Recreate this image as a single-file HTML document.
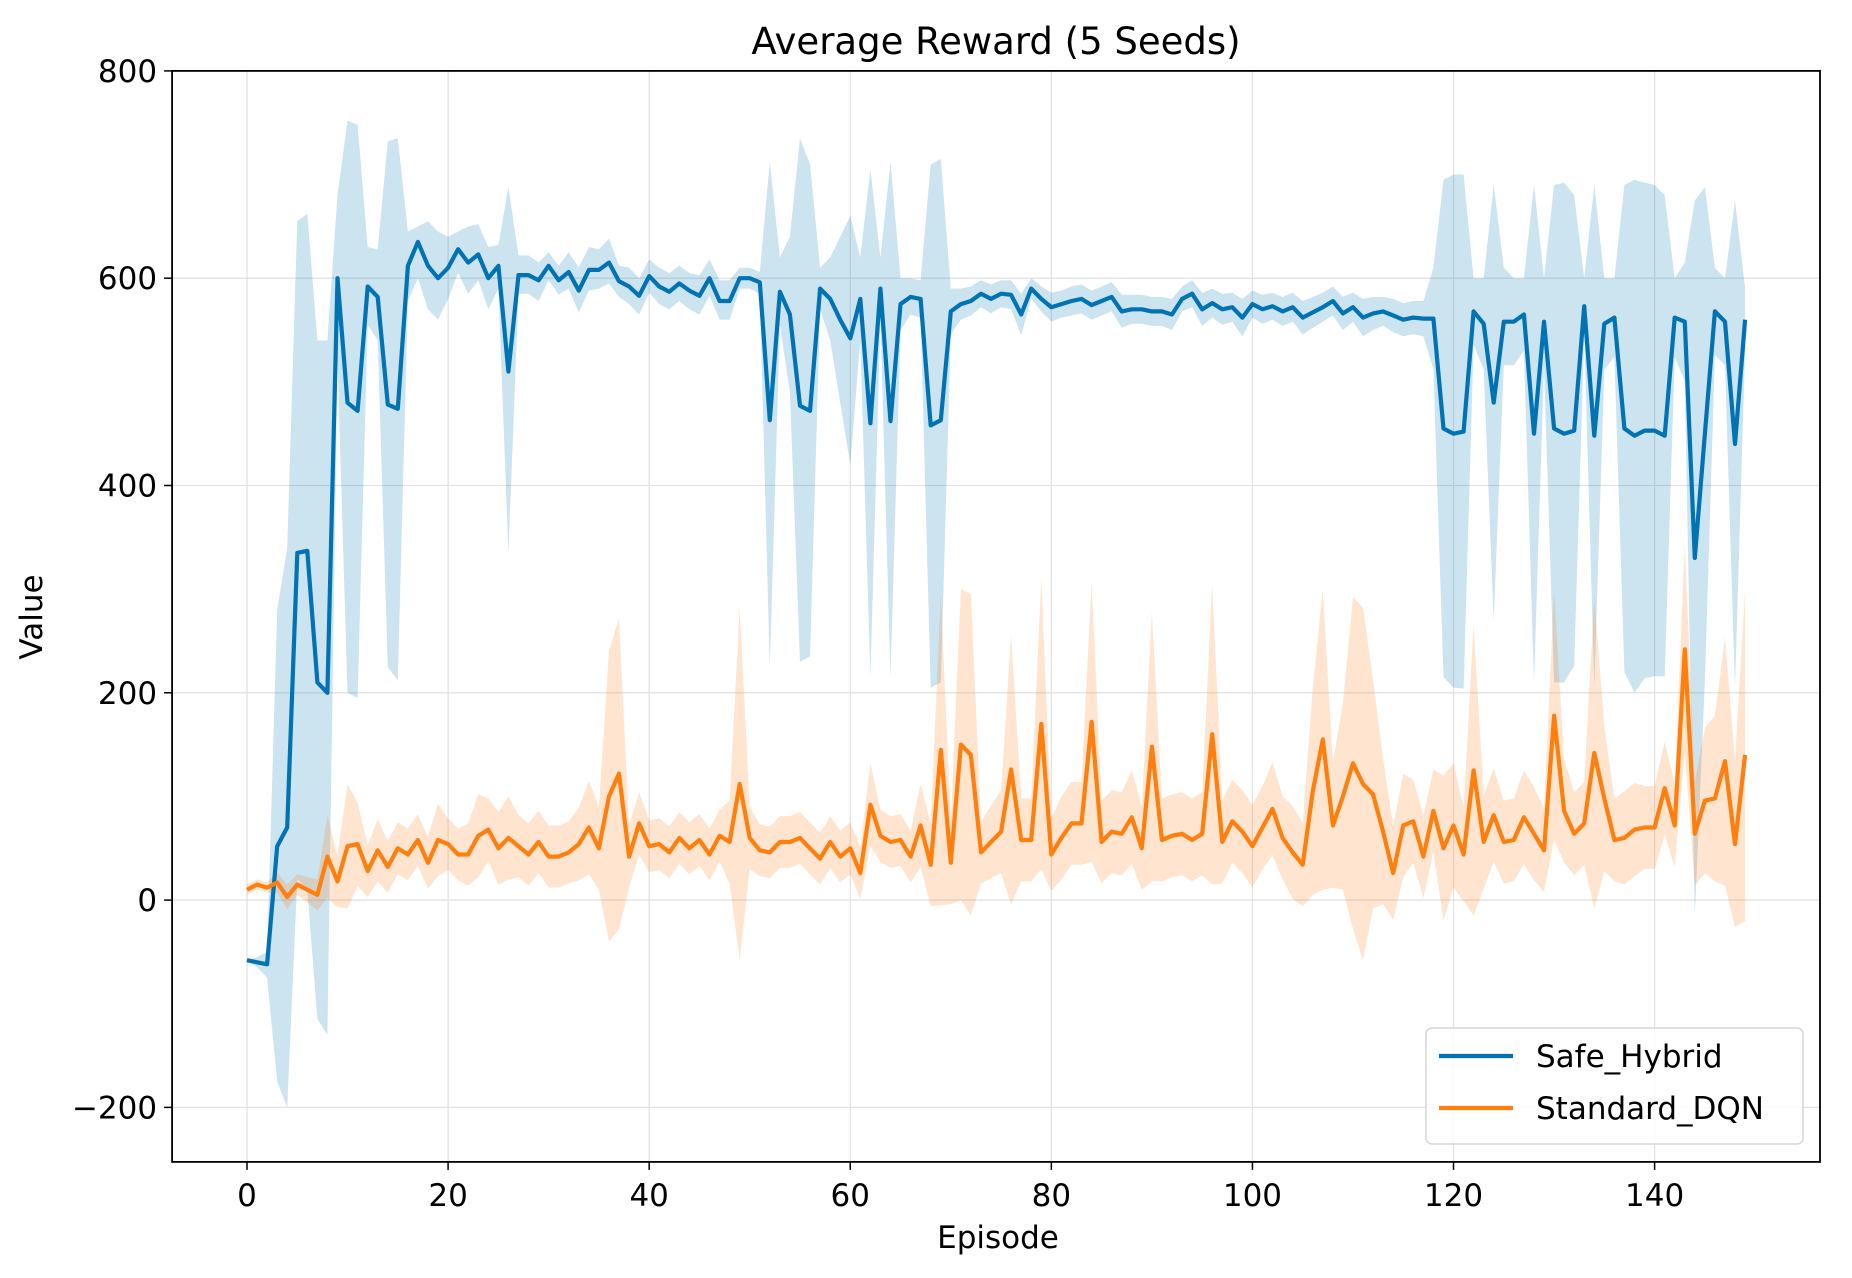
<!DOCTYPE html>
<html><head><meta charset="utf-8"><style>
html,body{margin:0;padding:0;background:#fff;}
svg{display:block;font-family:"DejaVu Sans","Liberation Sans",sans-serif;}
</style></head><body>
<svg id="chart" width="1852" height="1278" xmlns="http://www.w3.org/2000/svg">
<text x="996" y="54" font-size="37" text-anchor="middle" fill="#000">Average Reward (5 Seeds)</text>
<g id="grid"></g>
<g id="bands"></g>
<g id="lines"></g>
<rect x="172.1" y="70.9" width="1647.9" height="1091" fill="none" stroke="#000" stroke-width="1.8"/>
<g id="ticks"></g>
<text x="998" y="1248" font-size="31" text-anchor="middle">Episode</text>
<text x="0" y="0" font-size="31" text-anchor="middle" transform="translate(42,617) rotate(-90)">Value</text>
<g>
<rect x="1426" y="1028" width="377" height="116" rx="6" fill="#fff" fill-opacity="0.85" stroke="#d6d6d6" stroke-width="1.5"/>
<line x1="1439" y1="1056" x2="1513" y2="1056" stroke="#0173b2" stroke-width="4.2"/>
<text x="1536" y="1067" font-size="31">Safe_Hybrid</text>
<line x1="1439" y1="1108" x2="1513" y2="1108" stroke="#ff7f0e" stroke-width="4.2"/>
<text x="1536" y="1119" font-size="31">Standard_DQN</text>
</g>
</svg>
<script>
const xTicks=[0,20,40,60,80,100,120,140];
const yTicks=[-200,0,200,400,600,800];
const yTickLabels=["\u2212200","0","200","400","600","800"];
const hybridMean=[-58,-60,-62,52,70,335,337,210,200,600,480,472,592,582,478,474,612,635,612,600,610,628,615,623,600,612,510,603,603,598,612,598,606,588,608,608,615,597,592,583,602,592,587,595,588,583,600,578,578,600,600,596,463,587,565,477,472,590,580,560,542,580,460,590,462,575,582,580,458,463,568,575,578,585,580,585,584,565,590,580,572,575,578,580,574,578,582,568,570,570,568,568,565,580,585,570,576,570,572,562,575,570,573,568,572,562,567,572,578,566,572,562,566,568,564,560,562,561,561,455,450,452,568,556,480,558,558,565,450,558,455,450,453,573,448,556,562,455,448,453,453,448,562,558,330,450,568,558,440,560];
const hybridUpper=[-58,-55,-50,280,340,655,662,540,540,680,752,748,630,628,732,735,645,650,655,645,640,645,650,652,630,632,688,622,622,615,625,612,625,610,630,628,638,612,610,600,618,610,605,612,605,603,618,598,598,610,610,606,712,620,640,735,710,610,620,640,660,620,705,620,712,600,600,598,710,715,590,590,592,598,594,598,598,585,600,592,586,588,592,594,588,592,596,584,584,584,582,582,580,592,598,586,590,585,586,580,588,584,586,582,586,578,582,586,592,582,586,580,582,582,580,576,578,578,610,695,700,700,600,600,690,610,600,600,690,600,690,692,680,600,690,600,600,690,695,692,690,680,600,615,675,688,610,600,675,590];
const hybridLower=[-58,-65,-75,-175,-200,20,10,-115,-130,520,200,195,555,540,225,212,578,600,570,560,580,605,585,598,570,590,335,585,585,578,598,584,590,567,588,590,595,582,575,565,586,575,570,578,570,565,583,560,560,590,590,585,225,555,490,230,235,570,540,480,420,540,215,560,215,550,565,562,205,210,546,560,564,572,566,572,570,545,580,568,558,562,564,566,560,564,568,552,556,556,554,554,550,568,572,554,562,555,558,544,562,556,560,554,558,546,552,558,564,550,558,544,550,554,548,544,546,544,512,215,205,204,536,512,270,516,516,530,210,516,210,210,226,546,206,512,524,220,200,214,216,216,524,500,-15,212,526,516,205,530];
const dqnMean=[10,15,12,17,3,15,10,5,42,18,52,54,28,48,32,50,44,58,36,58,54,44,44,62,68,50,60,52,44,56,42,42,46,54,70,50,100,122,42,74,52,54,46,60,50,58,44,62,56,112,60,48,46,56,56,60,50,40,56,42,50,26,92,62,56,58,42,72,34,145,36,150,140,46,56,66,126,58,58,170,44,60,74,74,172,56,66,64,80,50,148,58,62,64,58,64,160,56,76,66,52,70,88,60,46,34,105,155,72,100,132,112,102,66,26,72,76,42,86,50,72,44,125,56,82,56,58,80,64,48,178,86,64,74,142,98,58,60,68,70,70,108,72,242,64,96,98,134,54,140];
const dqnSpread=[5,5,5,10,12,10,12,15,40,25,60,40,25,30,25,25,25,25,25,35,25,25,30,40,30,35,40,30,30,30,30,30,30,35,45,40,140,150,30,30,25,25,25,25,25,25,25,25,40,170,30,25,25,25,25,25,25,25,25,25,25,25,40,25,25,25,25,40,40,150,40,150,155,30,35,40,130,40,40,140,35,40,40,40,135,40,40,40,45,40,130,40,40,40,40,40,145,40,40,40,40,40,45,40,45,40,100,145,60,90,160,170,110,70,45,50,40,40,40,70,60,45,140,45,45,40,40,45,45,40,120,50,40,40,150,70,40,45,45,40,40,45,40,100,50,70,80,120,80,160];

const NS="http://www.w3.org/2000/svg";
const X0=172.1,X1=1820,Y0=70.9,Y1=1161.9;
const xMin=-7.45,xMax=156.45,yMin=-252.6,yMax=800;
function xs(v){return X0+(v-xMin)/(xMax-xMin)*(X1-X0);}
function ys(v){return Y1-(v-yMin)/(yMax-yMin)*(Y1-Y0);}
function mk(tag,attrs,parent){const e=document.createElementNS(NS,tag);for(const k in attrs)e.setAttribute(k,attrs[k]);parent.appendChild(e);return e;}
const grid=document.getElementById('grid'),ticks=document.getElementById('ticks'),bands=document.getElementById('bands'),lines=document.getElementById('lines');
xTicks.forEach(function(t){
  const g=mk('line',{x1:xs(t),x2:xs(t),y1:Y0,y2:Y1,stroke:'#e3e3e3','stroke-width':1.3},grid);
  
  
  const tk=mk('line',{x1:xs(t),x2:xs(t),y1:Y1,y2:Y1+8,stroke:'#000','stroke-width':1.5},ticks);
  
  
  const lb=mk('text',{x:xs(t),y:Y1+44,'font-size':31,'text-anchor':'middle'},ticks);
  lb.textContent=String(t);
  
  
});
yTicks.forEach(function(t,i){
  const g=mk('line',{x1:X0,x2:X1,y1:ys(t),y2:ys(t),stroke:'#e3e3e3','stroke-width':1.3},grid);
  
  
  const tk=mk('line',{x1:X0-8,x2:X0,y1:ys(t),y2:ys(t),stroke:'#000','stroke-width':1.5},ticks);
  
  
  const lb=mk('text',{x:X0-15,y:ys(t)+11,'font-size':31,'text-anchor':'end'},ticks);
  lb.textContent=yTickLabels[i];
  
  
});
function bandPath(up,lo){
  let d='';
  for(let i=0;i<up.length;i++)d+=(i?'L':'M')+xs(i).toFixed(1)+','+ys(up[i]).toFixed(1);
  for(let i=lo.length-1;i>=0;i--)d+='L'+xs(i).toFixed(1)+','+ys(lo[i]).toFixed(1);
  return d+'Z';
}
function linePath(m){let d='';for(let i=0;i<m.length;i++)d+=(i?'L':'M')+xs(i).toFixed(1)+','+ys(m[i]).toFixed(1);return d;}
const dqnUpper=dqnMean.map(function(v,i){return v+dqnSpread[i];});
const dqnLower=dqnMean.map(function(v,i){return v-dqnSpread[i];});
const b1=mk('path',{d:bandPath(hybridUpper,hybridLower),fill:'#0173b2','fill-opacity':0.2},bands);


const b2=mk('path',{d:bandPath(dqnUpper,dqnLower),fill:'#ff7f0e','fill-opacity':0.2},bands);


const l1=mk('path',{d:linePath(hybridMean),fill:'none',stroke:'#0173b2','stroke-width':4.2,'stroke-linejoin':'round'},lines);


const l2=mk('path',{d:linePath(dqnMean),fill:'none',stroke:'#ff7f0e','stroke-width':4.2,'stroke-linejoin':'round'},lines);


</script>
</body></html>
